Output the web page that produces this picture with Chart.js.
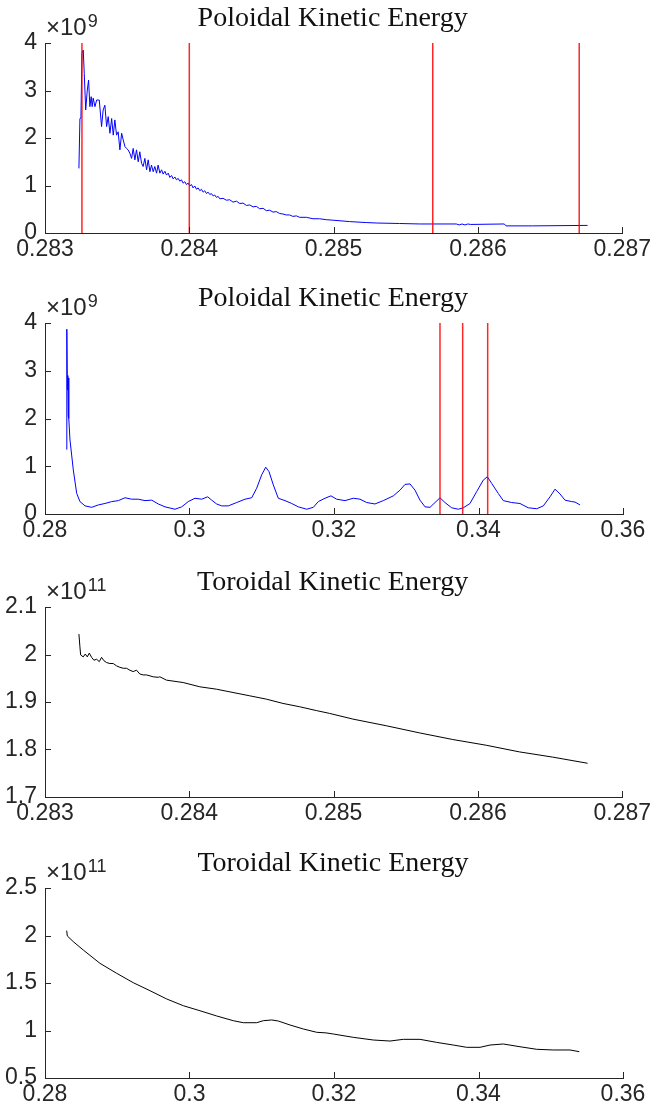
<!DOCTYPE html>
<html lang="en">
<head>
<meta charset="UTF-8">
<title>Kinetic Energy</title>
<style>
  body { margin: 0; background: #fff; }
  .panel { position: absolute; left: 0; width: 654px; }
</style>
</head>
<body>
<div class="panel" style="top:0px"><canvas id="c1" width="654" height="280"></canvas></div>
<div class="panel" style="top:280px"><canvas id="c2" width="654" height="280"></canvas></div>
<div class="panel" style="top:560px"><canvas id="c3" width="654" height="280"></canvas></div>
<div class="panel" style="top:840px"><canvas id="c4" width="654" height="275"></canvas></div>

<script src="https://cdn.jsdelivr.net/npm/chart.js"></script>
<script>
// ---- data ----
// poloidal energy, short time window (x1e9)
const polShortX = [0.283235, 0.283242, 0.283249, 0.283256, 0.283265, 0.283272, 0.283282, 0.283293, 0.283302, 0.283311,
  0.283320, 0.283327, 0.283334, 0.283346, 0.283358, 0.283376, 0.283392, 0.283403, 0.283415, 0.283427,
  0.283438, 0.283450, 0.283462, 0.283473, 0.283484, 0.283496, 0.283507, 0.283519, 0.283531, 0.283542,
  0.283554, 0.283565, 0.283576, 0.283588, 0.283600, 0.283611, 0.283623, 0.283634, 0.283646, 0.283657,
  0.283669, 0.283680, 0.283692, 0.283704, 0.283715, 0.283727, 0.283738, 0.283750, 0.283761, 0.283773,
  0.283784, 0.283796, 0.283808, 0.283819, 0.283831, 0.283842, 0.283854, 0.283865, 0.283877, 0.283888,
  0.283900, 0.283911, 0.283923, 0.283934, 0.283946, 0.283957, 0.283969, 0.283980, 0.283992, 0.284003,
  0.284015, 0.284026, 0.284038, 0.284050, 0.284061, 0.284073, 0.284084, 0.284096, 0.284107, 0.284119,
  0.284130, 0.284142, 0.284153, 0.284165, 0.284176, 0.284188, 0.284200, 0.284211, 0.284234, 0.284257,
  0.284280, 0.284303, 0.284327, 0.284350, 0.284372, 0.284396, 0.284419, 0.284442, 0.284465, 0.284488,
  0.284511, 0.284534, 0.284557, 0.284580, 0.284603, 0.284626, 0.284649, 0.284672, 0.284695, 0.284718,
  0.284742, 0.284765, 0.284811, 0.284857, 0.284903, 0.284949, 0.284995, 0.285111, 0.285226, 0.285300,
  0.285457, 0.285600, 0.285850, 0.285870, 0.285890, 0.285910, 0.285930, 0.285950, 0.286183, 0.286195,
  0.286379, 0.286760];
const polShortY = [1.36, 2.41, 2.42, 3.78, 3.85, 3.36, 2.59, 3.01, 3.22, 2.66,
  2.87, 2.66, 2.84, 2.66, 2.80, 2.80, 2.24, 2.59, 2.69, 2.24,
  2.45, 2.10, 2.41, 2.06, 2.38, 2.06, 2.13, 1.75, 2.10, 1.96,
  1.82, 1.78, 1.75, 1.68, 1.57, 1.78, 1.54, 1.75, 1.50, 1.71,
  1.47, 1.40, 1.57, 1.33, 1.54, 1.29, 1.43, 1.29, 1.40, 1.26,
  1.43, 1.26, 1.33, 1.24, 1.30, 1.22, 1.26, 1.17, 1.21, 1.14,
  1.18, 1.12, 1.15, 1.09, 1.12, 1.05, 1.08, 1.02, 1.05, 0.99,
  1.02, 0.95, 0.99, 0.92, 0.95, 0.89, 0.92, 0.86, 0.89, 0.83,
  0.86, 0.81, 0.83, 0.78, 0.80, 0.75, 0.77, 0.72, 0.73, 0.69,
  0.70, 0.65, 0.67, 0.62, 0.63, 0.58, 0.59, 0.55, 0.56, 0.51,
  0.52, 0.47, 0.48, 0.44, 0.45, 0.41, 0.40, 0.38, 0.38, 0.35,
  0.36, 0.33, 0.33, 0.30, 0.30, 0.28, 0.27, 0.24, 0.22, 0.21,
  0.20, 0.19, 0.19, 0.17, 0.19, 0.17, 0.19, 0.18, 0.19, 0.15,
  0.15, 0.16];
const polShortMarks = [0.283256, 0.284, 0.285687, 0.286702];

// poloidal energy, full run (x1e9)
const polLongX = [0.28300, 0.28302, 0.28310, 0.28316, 0.28322, 0.28326, 0.28332, 0.28346, 0.28392, 0.28439,
  0.28484, 0.28554, 0.28646, 0.28738, 0.28830, 0.28923, 0.29015, 0.29107, 0.29200, 0.29291,
  0.29384, 0.29477, 0.29568, 0.29661, 0.29799, 0.29892, 0.29983, 0.30076, 0.30169, 0.30252,
  0.30307, 0.30376, 0.30446, 0.30537, 0.30653, 0.30768, 0.30861, 0.30930, 0.30999, 0.31055,
  0.31100, 0.31160, 0.31229, 0.31322, 0.31415, 0.31506, 0.31622, 0.31714, 0.31783, 0.31875,
  0.31958, 0.32037, 0.32152, 0.32267, 0.32360, 0.32453, 0.32567, 0.32682, 0.32821, 0.32914,
  0.32983, 0.33052, 0.33121, 0.33190, 0.33260, 0.33329, 0.33398, 0.33467, 0.33536, 0.33629,
  0.33720, 0.33790, 0.33882, 0.33975, 0.34066, 0.34122, 0.34183, 0.34274, 0.34343, 0.34459,
  0.34574, 0.34689, 0.34806, 0.34897, 0.34990, 0.35059, 0.35128, 0.35197, 0.35290, 0.35336,
  0.35405];
const polLongY = [1.35, 3.87, 2.60, 2.90, 2.05, 2.85, 2.00, 1.55, 0.92, 0.43,
  0.26, 0.17, 0.14, 0.19, 0.22, 0.26, 0.28, 0.34, 0.31, 0.31,
  0.28, 0.29, 0.21, 0.15, 0.10, 0.15, 0.26, 0.33, 0.31, 0.36,
  0.29, 0.21, 0.17, 0.17, 0.24, 0.31, 0.34, 0.54, 0.82, 0.98,
  0.89, 0.61, 0.33, 0.28, 0.22, 0.15, 0.10, 0.14, 0.26, 0.33,
  0.38, 0.31, 0.28, 0.33, 0.31, 0.24, 0.21, 0.28, 0.38, 0.50,
  0.62, 0.63, 0.50, 0.29, 0.15, 0.14, 0.24, 0.34, 0.24, 0.13,
  0.10, 0.13, 0.22, 0.47, 0.71, 0.78, 0.64, 0.43, 0.28, 0.24,
  0.22, 0.13, 0.11, 0.17, 0.36, 0.52, 0.42, 0.29, 0.26, 0.25,
  0.19];
const polLongMarks = [0.33467, 0.33781, 0.34127];

// toroidal energy, short time window (x1e11)
const torShortX = [0.283235, 0.283242, 0.283247, 0.283265, 0.283279, 0.283293, 0.283307, 0.283323, 0.283339, 0.283358,
  0.283376, 0.283392, 0.283408, 0.283427, 0.283450, 0.283473, 0.283496, 0.283519, 0.283542, 0.283565,
  0.283588, 0.283611, 0.283634, 0.283657, 0.283680, 0.283704, 0.283750, 0.283784, 0.283796, 0.283842,
  0.283957, 0.284073, 0.284188, 0.284303, 0.284419, 0.284534, 0.284649, 0.284765, 0.284880, 0.284972,
  0.285134, 0.285365, 0.285595, 0.285826, 0.286057, 0.286287, 0.286518, 0.286760];
const torShortY = [2.043, 2.016, 1.999, 1.995, 2.001, 1.995, 2.003, 1.994, 1.988, 1.990,
  1.985, 1.994, 1.987, 1.983, 1.981, 1.981, 1.976, 1.973, 1.971, 1.971,
  1.967, 1.964, 1.967, 1.959, 1.957, 1.957, 1.953, 1.952, 1.953, 1.946,
  1.941, 1.932, 1.927, 1.920, 1.913, 1.906, 1.897, 1.890, 1.882, 1.876,
  1.864, 1.850, 1.835, 1.821, 1.809, 1.795, 1.784, 1.771];

// toroidal energy, full run (x1e11)
const torLongX = [0.28300, 0.28309, 0.28392, 0.28530, 0.28761, 0.28992, 0.29222, 0.29453, 0.29684, 0.29914,
  0.30145, 0.30376, 0.30606, 0.30745, 0.30930, 0.31021, 0.31138, 0.31229, 0.31391, 0.31575,
  0.31761, 0.31889, 0.31990, 0.32267, 0.32544, 0.32775, 0.32959, 0.33190, 0.33421, 0.33651,
  0.33837, 0.34021, 0.34159, 0.34343, 0.34574, 0.34806, 0.35035, 0.35266, 0.35395];
const torLongY = [2.051, 1.995, 1.935, 1.847, 1.707, 1.602, 1.503, 1.419, 1.332, 1.261,
  1.208, 1.153, 1.103, 1.082, 1.082, 1.103, 1.111, 1.100, 1.058, 1.016,
  0.981, 0.975, 0.963, 0.928, 0.900, 0.889, 0.907, 0.907, 0.875, 0.847,
  0.823, 0.823, 0.847, 0.858, 0.829, 0.802, 0.795, 0.795, 0.777];

// axis ticks
const xTicksShort = [0.283, 0.284, 0.285, 0.286, 0.287];
const xTicksLong = [0.28, 0.3, 0.32, 0.34, 0.36];
const yTicksPol = [0, 1, 2, 3, 4];
const yTicksTorShort = [1.7, 1.8, 1.9, 2, 2.1];
const yTicksTorLong = [0.5, 1, 1.5, 2, 2.5];

// ---- drawing ----
const axisColor = '#262626';

// titles, x10^n labels and inward ticks like MATLAB
const matlabAxes = {
    id: 'matlabAxes',
    afterDraw(chart, args, opts) {
        const { ctx, chartArea: a } = chart;
        const x = chart.scales.x, y = chart.scales.y;
        ctx.save();
        ctx.strokeStyle = axisColor;
        ctx.lineWidth = 1;
        ctx.beginPath();
        x.ticks.forEach(t => {
            const px = Math.round(x.getPixelForValue(t.value)) + 0.5;
            ctx.moveTo(px, a.bottom);
            ctx.lineTo(px, a.bottom - 6);
        });
        y.ticks.forEach(t => {
            const py = Math.round(y.getPixelForValue(t.value)) + 0.5;
            ctx.moveTo(a.left, py);
            ctx.lineTo(a.left + 6, py);
        });
        ctx.stroke();

        ctx.fillStyle = '#111';
        ctx.font = '28px "Liberation Serif"';
        ctx.textAlign = 'center';
        ctx.fillText(opts.title, (a.left + a.right) / 2 - 1, a.top - 17);

        ctx.fillStyle = axisColor;
        ctx.textAlign = 'left';
        ctx.font = '24px "Liberation Sans"';
        ctx.fillText('\u00d710', a.left + 1, a.top - 8);
        const w = ctx.measureText('\u00d710').width;
        ctx.font = '18px "Liberation Sans"';
        ctx.fillText(opts.exp, a.left + 2 + w, a.top - 16);
        ctx.restore();
    }
};

function fmt(v) {
    return String(parseFloat(v.toFixed(4)));
}

function makeChart(id, cfg) {
    const canvas = document.getElementById(id);
    const h = canvas.height;
    let datasets = [];
    (cfg.marks || []).forEach(m => {
        datasets.push({
            data: [{ x: m, y: cfg.ymin }, { x: m, y: cfg.ymax }],
            borderColor: 'rgba(255,0,0,0.85)',
            borderWidth: 1.5
        });
    });
    datasets.push({
        data: cfg.xs.map((v, i) => ({ x: v, y: cfg.ys[i] })),
        borderColor: cfg.color,
        borderWidth: 1
    });

    new Chart(canvas, {
        type: 'line',
        data: { datasets: datasets },
        options: {
            responsive: false,
            animation: false,
            events: [],
            elements: { point: { radius: 0 }, line: { tension: 0 } },
            layout: { padding: { top: cfg.top, right: 31, left: 0, bottom: 0 } },
            plugins: {
                legend: { display: false },
                tooltip: { enabled: false },
                matlabAxes: { title: cfg.title, exp: cfg.exp }
            },
            scales: {
                x: {
                    type: 'linear',
                    min: cfg.xTicks[0],
                    max: cfg.xTicks[cfg.xTicks.length - 1],
                    afterBuildTicks: s => { s.ticks = cfg.xTicks.map(v => ({ value: v })); },
                    afterFit: s => { s.height = h - cfg.bottom; },
                    grid: { display: false, drawTicks: false },
                    border: { display: true, color: axisColor, width: 1 },
                    ticks: {
                        autoSkip: false, maxRotation: 0, padding: 3,
                        color: axisColor,
                        font: { family: 'Liberation Sans', size: 23 },
                        callback: v => fmt(v)
                    }
                },
                y: {
                    type: 'linear',
                    min: cfg.ymin,
                    max: cfg.ymax,
                    afterBuildTicks: s => { s.ticks = cfg.yTicks.map(v => ({ value: v })); },
                    afterFit: s => { s.width = 45; },
                    grid: { display: false, drawTicks: false },
                    border: { display: true, color: axisColor, width: 1 },
                    ticks: {
                        autoSkip: false, padding: 8,
                        color: axisColor,
                        font: { family: 'Liberation Sans', size: 23 },
                        callback: v => fmt(v)
                    }
                }
            }
        },
        plugins: [matlabAxes]
    });
}

makeChart('c1', {
    xs: polShortX, ys: polShortY, marks: polShortMarks, color: '#0000ff',
    xTicks: xTicksShort, yTicks: yTicksPol, ymin: 0, ymax: 4,
    top: 43, bottom: 233, title: 'Poloidal Kinetic Energy', exp: '9'
});
makeChart('c2', {
    xs: polLongX, ys: polLongY, marks: polLongMarks, color: '#0000ff',
    xTicks: xTicksLong, yTicks: yTicksPol, ymin: 0, ymax: 4,
    top: 43, bottom: 234, title: 'Poloidal Kinetic Energy', exp: '9'
});
makeChart('c3', {
    xs: torShortX, ys: torShortY, color: '#000000',
    xTicks: xTicksShort, yTicks: yTicksTorShort, ymin: 1.7, ymax: 2.1,
    top: 47, bottom: 237, title: 'Toroidal Kinetic Energy', exp: '11'
});
makeChart('c4', {
    xs: torLongX, ys: torLongY, color: '#000000',
    xTicks: xTicksLong, yTicks: yTicksTorLong, ymin: 0.5, ymax: 2.5,
    top: 48, bottom: 238, title: 'Toroidal Kinetic Energy', exp: '11'
});
</script>
</body>
</html>
